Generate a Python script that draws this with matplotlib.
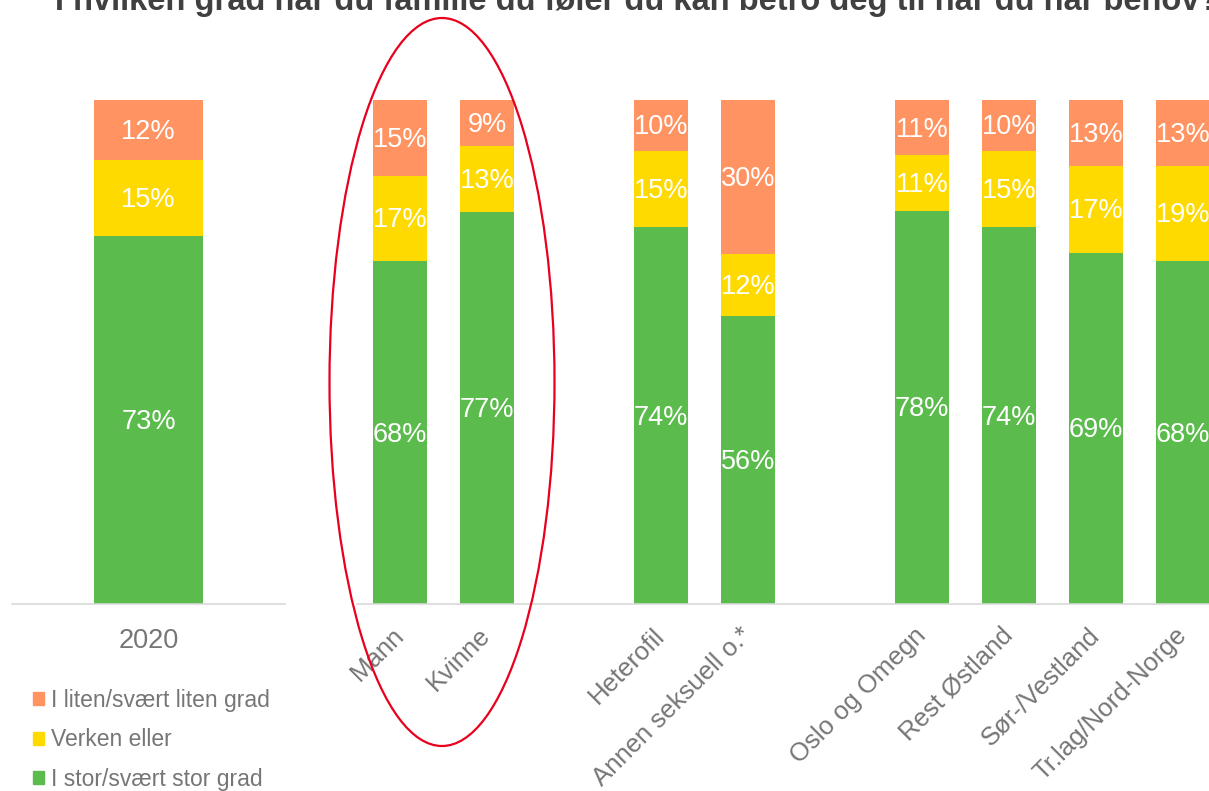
import matplotlib
matplotlib.use('Agg')
import matplotlib.pyplot as plt
import numpy as np
from matplotlib.patches import Ellipse, Patch

plt.rcParams['font.family'] = ['Liberation Sans', 'DejaVu Sans']

title = 'I hvilken grad har du familie du føler du kan betro deg til når du har behov?'

# left panel: total
year_labels = ['2020']
year_stor = [73]
year_verken = [15]
year_liten = [12]

# right panel: groups ('' = empty gap slot)
groups = ['Mann', 'Kvinne', '', 'Heterofil', 'Annen seksuell o.*', '',
          'Oslo og Omegn', 'Rest Østland', 'Sør-/Vestland', 'Tr.lag/Nord-Norge']
stor = [68, 77, None, 74, 56, None, 78, 74, 69, 68]
verken = [17, 13, None, 15, 12, None, 11, 15, 17, 19]
liten = [15, 9, None, 10, 30, None, 11, 10, 13, 13]

legend_labels = ['I liten/svært liten grad', 'Verken eller', 'I stor/svært stor grad']
c_liten = '#FF9361'
c_verken = '#FFDA00'
c_stor = '#5BBB4C'
txt_grey = '#767676'

W, H = 1209, 791
fig = plt.figure(figsize=(W / 100, H / 100), dpi=100)

base_y = 604
top_y = 100
ax_b = 1 - base_y / H
ax_h = (base_y - top_y) / H

ax1 = fig.add_axes([12 / W, ax_b, 273 / W, ax_h])
ax2 = fig.add_axes([356.5 / W, ax_b, 870 / W, ax_h])


def stacked(ax, x, s, v, l, width):
    for i in range(len(x)):
        if s[i] is None:
            continue
        tot = s[i] + v[i] + l[i]
        parts = [(s[i], c_stor), (v[i], c_verken), (l[i], c_liten)]
        bottom = 0
        for val, col in parts:
            h = val / tot
            ax.bar(x[i], h, width, bottom=bottom, color=col)
            ax.text(x[i], bottom + h / 2 - 0.004, f'{val}%', ha='center', va='center',
                    color='white', fontsize=19.5)
            bottom += h


stacked(ax1, [0], year_stor, year_verken, year_liten, 0.40)
ax1.set_xlim(-0.5, 0.5)
ax1.set_xticks([0])
ax1.set_xticklabels(year_labels, fontsize=19.5, color=txt_grey)
ax1.tick_params(axis='x', length=0, pad=17)

x2 = np.arange(len(groups))
stacked(ax2, x2, stor, verken, liten, 0.62)
ax2.set_xlim(-0.5, len(groups) - 0.5)
ax2.set_xticks([i for i in x2 if groups[i]])
ax2.set_xticklabels([g for g in groups if g], fontsize=18.5, color=txt_grey,
                    rotation=45, ha='right', va='center', rotation_mode='anchor')
ax2.tick_params(axis='x', length=0, pad=20)

for ax in (ax1, ax2):
    ax.set_ylim(0, 1)
    ax.set_yticks([])
    for sp in ['top', 'right', 'left']:
        ax.spines[sp].set_visible(False)
    ax.spines['bottom'].set_color('#D9D9D9')
    ax.spines['bottom'].set_linewidth(1.2)

fig.text(55 / W, 1 - 10 / H, title, fontsize=23.5, fontweight='bold',
         color='#404040', ha='left', va='baseline')

handles = [Patch(color=c_liten), Patch(color=c_verken), Patch(color=c_stor)]
fig.legend(handles, legend_labels, loc='upper left', bbox_to_anchor=(33 / W, 1 - 689 / H),
           frameon=False, fontsize=16.5, labelcolor=txt_grey, handlelength=0.5,
           handleheight=0.5, handletextpad=0.3, labelspacing=0.72, borderpad=0,
           borderaxespad=0)

ell = Ellipse((442 / W, 1 - 382 / H), 225 / W, 728 / H, transform=fig.transFigure,
              fill=False, edgecolor='#E8001C', linewidth=1.6, clip_on=False)
fig.add_artist(ell)

fig.savefig('out.png', dpi=100)
